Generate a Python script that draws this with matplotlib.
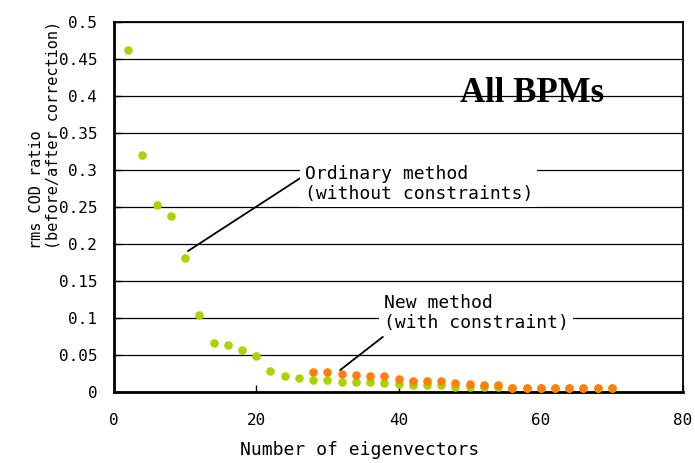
import matplotlib
matplotlib.use("Agg")
import matplotlib.pyplot as plt
import numpy as np

# ---- data ----
x_ordinary = list(range(2, 72, 2))
y_ordinary = [0.462, 0.320, 0.253, 0.238, 0.181, 0.104, 0.066, 0.064, 0.057, 0.049,
              0.029, 0.021, 0.019, 0.016, 0.016, 0.0135, 0.013, 0.013, 0.0125, 0.011,
              0.009, 0.009, 0.009, 0.007, 0.007, 0.007, 0.007, 0.0055, 0.0055, 0.0055,
              0.0055, 0.0055, 0.0055, 0.0055, 0.005]
x_new = list(range(28, 72, 2))
y_new = [0.027, 0.027, 0.024, 0.0225, 0.021, 0.021, 0.018, 0.015, 0.015, 0.015,
         0.0126, 0.0104, 0.0095, 0.009, 0.006, 0.006, 0.006, 0.006, 0.006, 0.006,
         0.006, 0.005]
x_ticks = [0, 20, 40, 60, 80]
y_ticks = [0, 0.05, 0.1, 0.15, 0.2, 0.25, 0.3, 0.35, 0.4, 0.45, 0.5]
y_tick_labels = ["0", "0.05", "0.1", "0.15", "0.2", "0.25", "0.3", "0.35", "0.4", "0.45", "0.5"]

mono = "DejaVu Sans Mono"

fig = plt.figure(figsize=(6.95, 4.63), dpi=100)
ax = fig.add_axes([114/695, 1 - 392/463, (683 - 114)/695, (392 - 22)/463])

ax.set_xlim(0, 80)
ax.set_ylim(0, 0.5)
ax.set_xticks(x_ticks)
ax.set_yticks(y_ticks)
ax.set_yticklabels(y_tick_labels)
ax.yaxis.grid(True, color="black", linewidth=0.9)
ax.set_axisbelow(True)
ax.tick_params(direction="in", length=5, width=1, labelsize=11.5)
ax.tick_params(axis="x", pad=15)
ax.tick_params(axis="y", pad=12)
for lab in ax.get_xticklabels() + ax.get_yticklabels():
    lab.set_fontfamily(mono)
for side in ["left", "bottom"]:
    ax.spines[side].set_linewidth(2.0)
for side in ["top", "right"]:
    ax.spines[side].set_linewidth(1.3)

ax.scatter(x_ordinary, y_ordinary, s=38, color="#A8D400", zorder=3, linewidths=0)
ax.scatter(x_new, y_new, s=38, color="#FF7F0A", zorder=4, linewidths=0)

ax.set_xlabel("Number of eigenvectors", fontfamily=mono, fontsize=13)
ax.xaxis.set_label_coords((360 - 114) / 569, -(450 - 392) / 370)
ax.xaxis.label.set_va("center")
fig.text(45 / 695, 1 - 249/463, "rms COD ratio\n(before/after correction)", rotation=90,
         fontfamily=mono, fontsize=11, ha="center", va="bottom", multialignment="left",
         linespacing=1.15)

ax.text(58.8, 0.392, "All BPMs", fontfamily="Liberation Serif", fontweight="bold",
        fontsize=25, ha="center", va="baseline", zorder=5)

ax.annotate("", xy=(10.4, 0.1905), xytext=(26.5, 0.291),
            arrowprops=dict(arrowstyle="-", color="black", lw=1.3, shrinkA=0, shrinkB=0), zorder=5)
ax.text(26.8, 0.2815, "Ordinary method\n(without constraints)", fontfamily=mono, fontsize=13,
        ha="left", va="center", linespacing=1.15, zorder=6,
        bbox=dict(facecolor="white", edgecolor="none", pad=3))

ax.annotate("", xy=(31.8, 0.0297), xytext=(37.8, 0.0745),
            arrowprops=dict(arrowstyle="-", color="black", lw=1.3, shrinkA=0, shrinkB=0), zorder=5)
ax.text(37.9, 0.1065, "New method\n(with constraint)", fontfamily=mono, fontsize=13,
        ha="left", va="center", linespacing=1.15, zorder=6,
        bbox=dict(facecolor="white", edgecolor="none", pad=3))

fig.savefig("out.png", dpi=100)
